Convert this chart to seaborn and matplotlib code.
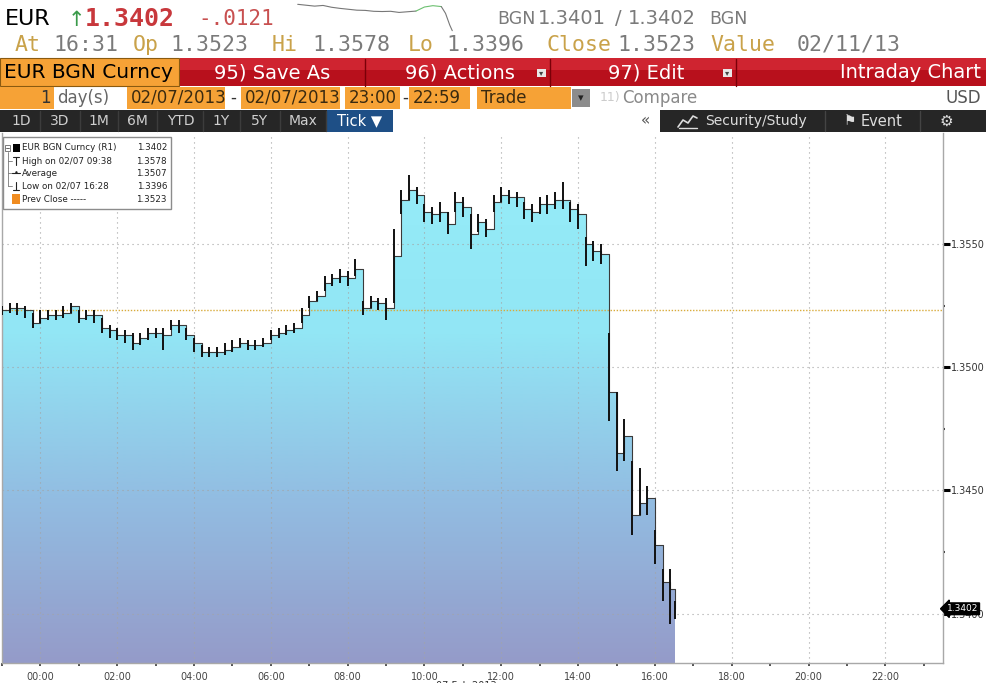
import numpy as np
import pandas as pd
import matplotlib
matplotlib.use("Agg")
import matplotlib.pyplot as plt
from matplotlib.patches import Rectangle, PathPatch
from matplotlib.lines import Line2D
from matplotlib.colors import LinearSegmentedColormap
import matplotlib.transforms as mtransforms
import seaborn as sns

# ---- data (hours from midnight, EUR/BGN price) ----
hours = [round(-1.0 + 0.2 * i, 2) for i in range(88)] + [16.53]

close = [
    1.3523, 1.3524, 1.3524, 1.3523, 1.3518,
    1.3520, 1.3521, 1.3521, 1.3522, 1.3525,
    1.3520, 1.3521, 1.3521, 1.3516, 1.3515,
    1.3513, 1.3513, 1.3510, 1.3512, 1.3514,
    1.3514, 1.3513, 1.3517, 1.3517, 1.3513,
    1.3510, 1.3506, 1.3506, 1.3506, 1.3507,
    1.3508, 1.3510, 1.3509, 1.3509, 1.3510,
    1.3513, 1.3514, 1.3515, 1.3516, 1.3521,
    1.3527, 1.3529, 1.3534, 1.3536, 1.3537,
    1.3536, 1.3540, 1.3524, 1.3527, 1.3526,
    1.3524, 1.3545, 1.3568, 1.3572, 1.3570,
    1.3563, 1.3562, 1.3563, 1.3558, 1.3567,
    1.3565, 1.3554, 1.3559, 1.3556, 1.3567,
    1.3570, 1.3569, 1.3569, 1.3564, 1.3563,
    1.3566, 1.3566, 1.3568, 1.3568, 1.3564,
    1.3562, 1.3550, 1.3547, 1.3546, 1.3490,
    1.3465, 1.3472, 1.3440, 1.3445, 1.3447,
    1.3428, 1.3413, 1.3410, 1.3402]

bar_hi = [
    1.3525, 1.3526, 1.3526, 1.3525, 1.3522,
    1.3523, 1.3523, 1.3523, 1.3525, 1.3526,
    1.3523, 1.3523, 1.3523, 1.3520, 1.3517,
    1.3516, 1.3515, 1.3514, 1.3514, 1.3516,
    1.3516, 1.3516, 1.3519, 1.3519, 1.3516,
    1.3512, 1.3509, 1.3508, 1.3508, 1.3510,
    1.3511, 1.3512, 1.3511, 1.3511, 1.3512,
    1.3515, 1.3516, 1.3517, 1.3518, 1.3524,
    1.3529, 1.3531, 1.3537, 1.3538, 1.3540,
    1.3539, 1.3544, 1.3527, 1.3529, 1.3528,
    1.3528, 1.3556, 1.3572, 1.3578, 1.3573,
    1.3566, 1.3565, 1.3567, 1.3563, 1.3571,
    1.3569, 1.3562, 1.3562, 1.3560, 1.3570,
    1.3573, 1.3572, 1.3571, 1.3567, 1.3566,
    1.3569, 1.3570, 1.3571, 1.3575, 1.3567,
    1.3566, 1.3553, 1.3551, 1.3550, 1.3514,
    1.3490, 1.3479, 1.3462, 1.3459, 1.3452,
    1.3434, 1.3418, 1.3418, 1.3405]

bar_lo = [
    1.3521, 1.3522, 1.3521, 1.3520, 1.3516,
    1.3518, 1.3519, 1.3519, 1.3520, 1.3522,
    1.3518, 1.3519, 1.3518, 1.3514, 1.3512,
    1.3511, 1.3510, 1.3507, 1.3509, 1.3511,
    1.3512, 1.3507, 1.3515, 1.3514, 1.3511,
    1.3506, 1.3504, 1.3504, 1.3504, 1.3505,
    1.3506, 1.3508, 1.3507, 1.3507, 1.3508,
    1.3511, 1.3512, 1.3513, 1.3514, 1.3518,
    1.3524, 1.3527, 1.3531, 1.3533, 1.3534,
    1.3533, 1.3537, 1.3521, 1.3524, 1.3523,
    1.3519, 1.3526, 1.3562, 1.3568, 1.3566,
    1.3559, 1.3558, 1.3559, 1.3554, 1.3563,
    1.3561, 1.3548, 1.3555, 1.3553, 1.3563,
    1.3567, 1.3566, 1.3565, 1.3560, 1.3559,
    1.3562, 1.3562, 1.3564, 1.3564, 1.3559,
    1.3556, 1.3541, 1.3543, 1.3542, 1.3478,
    1.3458, 1.3462, 1.3432, 1.3440, 1.3440,
    1.3420, 1.3405, 1.3396, 1.3398]

prev_close = 1.3523
last_price = 1.3402
y_ticks = [1.3400, 1.3450, 1.3500, 1.3550]
y_minor = [1.3425, 1.3475, 1.3525]
x_ticks = list(range(0, 23, 2))
x_labels = [f"{h:02d}:00" for h in x_ticks]

spark_gray = [1.3640, 1.3636, 1.3632, 1.3635, 1.3627, 1.3622, 1.3618, 1.3614,
              1.3613, 1.3609, 1.3608, 1.3609, 1.3604, 1.3607, 1.3610]
spark_green = [1.3610, 1.3628, 1.3634, 1.3630]
spark_drop = [1.3630, 1.3600, 1.3548, 1.3523]

legend_rows = [
    ("EUR BGN Curncy (R1)", "1.3402"),
    ("High on 02/07 09:38", "1.3578"),
    ("Average", "1.3507"),
    ("Low on 02/07 16:28", "1.3396"),
    ("Prev Close -----", "1.3523"),
]

W, H = 987, 683
ORANGE = "#f6a236"
GOLD = "#c9a24a"
GRAYTXT = "#7a7a7a"

sns.set_theme(style="white")
plt.rcParams["font.family"] = ["DejaVu Sans"]

fig = plt.figure(figsize=(W / 100, H / 100), dpi=100)
fig.patch.set_facecolor("white")


def fx(x):
    return x / W


def fy(y):
    return 1 - y / H


def frect(x0, y0, x1, y1, color, ec="none", lw=0, z=1):
    fig.patches.append(Rectangle((fx(x0), fy(y1)), fx(x1) - fx(x0), fy(y0) - fy(y1),
                                 transform=fig.transFigure, facecolor=color,
                                 edgecolor=ec, linewidth=lw, zorder=z))


def ftext(x, y, s, **kw):
    kw.setdefault("va", "center")
    return fig.text(fx(x), fy(y), s, **kw)


def fline(xs, ys, **kw):
    fig.lines.append(Line2D([fx(v) for v in xs], [fy(v) for v in ys],
                            transform=fig.transFigure, **kw))


# ---- header row 1 ----
ftext(5, 19, "EUR", fontsize=16, color="black")
ftext(68, 20, "↑", fontsize=15, color="#3a9a4a")
ftext(85, 19, "1.3402", fontsize=18, color="#c8383c", fontweight="bold", family="DejaVu Sans Mono")
ftext(198, 19, "-.0121", fontsize=15, color="#c85050", family="DejaVu Sans Mono")
ftext(497, 19, "BGN", fontsize=12.5, color=GRAYTXT)
ftext(538, 19, "1.3401", fontsize=14, color=GRAYTXT)
ftext(615, 19, "/", fontsize=14, color=GRAYTXT)
ftext(628, 19, "1.3402", fontsize=14, color=GRAYTXT)
ftext(709, 19, "BGN", fontsize=12.5, color=GRAYTXT)

spark = fig.add_axes([fx(290), fy(32), fx(460) - fx(290), fy(3) - fy(32)])
n1, n2 = len(spark_gray), len(spark_green)
sns.lineplot(x=list(range(n1)), y=spark_gray, ax=spark, color="#777777", lw=0.8)
sns.lineplot(x=list(range(n1 - 1, n1 - 1 + n2)), y=spark_green, ax=spark, color="#6cc070", lw=0.8)
sns.lineplot(x=[n1 + n2 - 2, n1 + n2 - 1.5, n1 + n2 - 1, n1 + n2 - 0.7], y=spark_drop, ax=spark,
             color="#777777", lw=0.8)
spark.set_axis_off()

# ---- header row 2 ----
row2 = [("At", 15, GOLD), ("16:31", 53, GRAYTXT), ("Op", 133, GOLD), ("1.3523", 170, GRAYTXT),
        ("Hi", 272, GOLD), ("1.3578", 312, GRAYTXT), ("Lo", 408, GOLD), ("1.3396", 446, GRAYTXT),
        ("Close", 546, GOLD), ("1.3523", 617, GRAYTXT), ("Value", 710, GOLD), ("02/11/13", 797, GRAYTXT)]
for s, x, c in row2:
    ftext(x, 45, s, fontsize=15.5, color=c, family="DejaVu Sans Mono")

# ---- header row 3 (red action bar) ----
frect(0, 58, 179, 86, ORANGE, ec="#8a5a10", lw=0.8)
ftext(4, 73, "EUR BGN Curncy", fontsize=14.5, color="black")
frect(180, 58, 987, 86, "#b8101c")
frect(180, 58, 987, 70, "#cf2430")
for sx in [365, 550, 736]:
    fline([sx, sx], [59, 86], color="#7a0008", lw=1.0)
ftext(272, 73, "95) Save As", fontsize=14, color="white", ha="center")
ftext(460, 73, "96) Actions", fontsize=14, color="white", ha="center")
ftext(646, 73, "97) Edit", fontsize=14, color="white", ha="center")
ftext(981, 73, "Intraday Chart", fontsize=14, color="white", ha="right")
for bx in [537, 723]:
    frect(bx, 69, bx + 9, 77, "#e8e8e8")
    ftext(bx + 4.5, 73, "▾", fontsize=6, color="#444444", ha="center")

# ---- header row 4 (settings) ----
frect(0, 87, 54, 109, ORANGE)
ftext(51, 98, "1", fontsize=12, color="#333333", ha="right")
ftext(57, 98, "day(s)", fontsize=12, color="#666666")
for x0, x1, s in [(127, 225, "02/07/2013"), (241, 340, "02/07/2013"), (345, 400, "23:00"),
                  (409, 470, "22:59"), (477, 571, "Trade")]:
    frect(x0, 87, x1, 109, ORANGE)
    ftext(x0 + 4, 98, s, fontsize=12, color="#3a2a10")
ftext(233, 98, "-", fontsize=12, color="#333333", ha="center")
ftext(405, 98, "-", fontsize=12, color="#333333", ha="center")
frect(572, 89, 590, 107, "#8c8c8c")
ftext(581, 98, "▾", fontsize=8, color="#222222", ha="center")
ftext(600, 98, "11)", fontsize=9, color="#cccccc")
ftext(622, 98, "Compare", fontsize=12, color="#8a8a8a")
ftext(981, 98, "USD", fontsize=12, color="#555555", ha="right")

# ---- header row 5 (toolbar) ----
frect(0, 110, 393, 132, "#262626")
frect(327, 110, 393, 132, "#1e4f86")
frect(660, 110, 987, 132, "#262626")
for s, cx in [("1D", 21), ("3D", 60), ("1M", 99), ("6M", 137), ("YTD", 181),
              ("1Y", 221), ("5Y", 260), ("Max", 303)]:
    ftext(cx, 121, s, fontsize=10, color="#cfcfcf", ha="center")
for sx in [40, 80, 118, 157, 203, 240, 280, 326]:
    fline([sx, sx], [111, 131], color="#3c3c3c", lw=1)
ftext(360, 121, "Tick ▼", fontsize=10.5, color="white", ha="center")
ftext(646, 121, "«", fontsize=11, color="#555555", ha="center")
# small chart icon next to Security/Study
fline([678, 683, 688, 693, 697], [127, 120, 123, 116, 118], color="#dddddd", lw=1.2)
fline([679, 697], [128, 128], color="#dddddd", lw=1.0)
ftext(756, 121, "Security/Study", fontsize=10, color="#dddddd", ha="center")
ftext(850, 121, "⚑", fontsize=10, color="#dddddd", ha="center")
ftext(882, 121, "Event", fontsize=10.5, color="#dddddd", ha="center")
ftext(946, 121, "⚙", fontsize=11, color="#dddddd", ha="center")
for sx in [825, 920]:
    fline([sx, sx], [111, 131], color="#444444", lw=1)

# ---- price chart ----
df = pd.DataFrame({"hour": hours, "close": close, "hi": bar_hi, "lo": bar_lo})
xmin, xmax = -1.0, 23.5
ymin, ymax = 1.3380, 1.3595

ax = fig.add_axes([fx(2), fy(663), fx(943) - fx(2), fy(133) - fy(663)])
ax.set_facecolor("white")

band = ax.fill_between(df["hour"], df["close"], ymin, step="post",
                       facecolor="none", edgecolor="none")
clip = PathPatch(band.get_paths()[0], transform=ax.transData, facecolor="none", edgecolor="none")
ax.add_patch(clip)
fill_cmap = LinearSegmentedColormap.from_list("bbg_fill", ["#959bc9", "#92bde2", "#92e6f5", "#95ecf8"])
grad = np.linspace(0, 1, 256).reshape(-1, 1)
im = ax.imshow(grad, extent=[xmin, xmax, ymin, 1.3580], origin="lower", aspect="auto",
               cmap=fill_cmap, zorder=1, interpolation="bilinear")
im.set_clip_path(clip)

for h in x_ticks:
    ax.axvline(h, color="#a4a4a4", lw=0.8, ls=(0, (1, 3.5)), zorder=2)
for yv in y_ticks:
    ax.axhline(yv, color="#a4a4a4", lw=0.8, ls=(0, (1, 3.5)), zorder=2)
ax.axhline(prev_close, color="#d8aa3a", lw=1.0, ls=(0, (1, 1.2)), zorder=2.5)

sns.lineplot(data=df, x="hour", y="close", ax=ax, drawstyle="steps-post",
             color="#3a3a3a", lw=0.8, estimator=None, zorder=3)
ax.vlines(df["hour"], df["lo"], df["hi"], color="#111111", lw=1.4, zorder=4)

ax.set_xlim(xmin, xmax)
ax.set_ylim(ymin, ymax)
ax.set_xlabel("")
ax.set_ylabel("")

ax.set_xticks(x_ticks)
ax.set_xticklabels(x_labels)
ax.set_xticks(list(range(-1, 24, 2)), minor=True)
ax.yaxis.tick_right()
ax.set_yticks(y_ticks)
ax.set_yticklabels([f"{v:.4f}" for v in y_ticks])
ax.set_yticks(y_minor, minor=True)
ax.tick_params(axis="x", which="both", bottom=True, direction="out", length=2.5, width=1.2,
               color="#333333", labelsize=7, labelcolor="#444444", pad=4)
ax.tick_params(axis="y", which="major", right=True, left=False, direction="out", length=5,
               width=2.2, color="black", labelsize=7, labelcolor="#333333", pad=1)
ax.tick_params(axis="y", which="minor", right=True, left=False, direction="out", length=1.5,
               width=1.5, color="#333333")
for side in ["left", "right", "bottom"]:
    ax.spines[side].set_color("#a8a8a8")
    ax.spines[side].set_linewidth(1.0)
ax.spines["top"].set_visible(False)

blend = mtransforms.blended_transform_factory(ax.transAxes, ax.transData)
ax.text(1.004, last_price, "1.3402", transform=blend, fontsize=6.5, color="white",
        va="center", ha="left", zorder=6,
        bbox=dict(boxstyle="larrow,pad=0.15", facecolor="black", edgecolor="black"))

# date caption sits partly below the picture edge, as in the screenshot
ftext(436, 686, "07 Feb 2013", fontsize=7, color="#333333")

# ---- legend box ----
frect(3, 137, 171, 209, "white", ec="#8c8c8c", lw=1.0, z=5)
row_y = [148, 161, 173, 186, 199]
for (label, val), yy in zip(legend_rows, row_y):
    ftext(22, yy, label, fontsize=6.3, color="#222222", zorder=6)
    ftext(167, yy, val, fontsize=6.3, color="#222222", ha="right", zorder=6)
frect(5, 145, 10, 151, "white", ec="#666666", lw=0.6, z=6)
fline([6, 9], [148, 148], color="#444444", lw=0.6, zorder=7)
frect(13, 144, 20, 152, "black", z=6)
fline([8, 8], [152, 186], color="#777777", lw=0.6, zorder=6)
for yy in [161, 173, 186]:
    fline([8, 12], [yy, yy], color="#777777", lw=0.6, zorder=6)
fline([13, 19], [157, 157], color="#222222", lw=0.8, zorder=6)
fline([16, 16], [157, 165], color="#222222", lw=0.8, zorder=6)
fline([12, 20], [173, 173], color="#222222", lw=0.8, zorder=6)
ftext(16, 173, "•", fontsize=6, color="#222222", ha="center", zorder=7)
fline([16, 16], [182, 190], color="#222222", lw=0.8, zorder=6)
fline([13, 19], [190, 190], color="#222222", lw=0.8, zorder=6)
frect(12, 194, 20, 204, "#f08c20", z=6)

fig.savefig("out.png", dpi=100)
